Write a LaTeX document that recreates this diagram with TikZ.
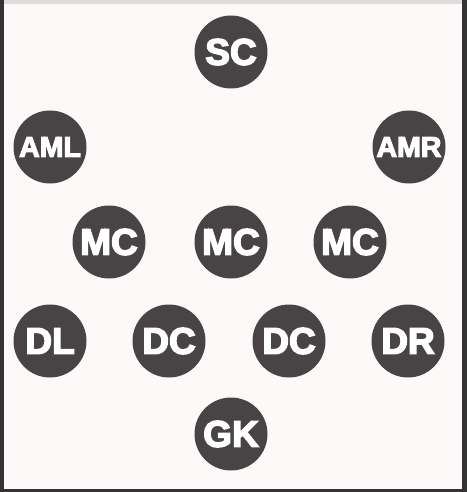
\documentclass[tikz,border=0pt]{standalone}
\usepackage{fontspec}
\newfontfamily\kitfont[FakeBold=4]{Liberation Sans Bold}
\usepackage{tikz}
\definecolor{pitchpaper}{RGB}{251,250,249}
\definecolor{shirtgray}{RGB}{72,68,70}
\definecolor{edgedark}{RGB}{52,50,52}
\definecolor{edgelight}{RGB}{222,220,218}

\begin{document}
\begin{tikzpicture}[x=1pt, y=-1pt,
plr/.style={circle, fill=shirtgray, minimum size=73pt, inner sep=0pt,
text=white, font=\kitfont\fontsize{37}{37}\selectfont},
plrw/.style={plr, font=\kitfont\fontsize{28.5}{28.5}\selectfont}
]
\useasboundingbox (0,0) rectangle (467,492);
\fill[pitchpaper] (0,0) rectangle (467,492);
\fill[edgelight] (0,0) rectangle (467,4);
\fill[edgedark] (0,0) rectangle (3.5,492);
\fill[edgedark] (462,0) rectangle (467,492);
\fill[edgedark] (0,489) rectangle (467,492);

\node[plr]  (sc)  at (231,52)  {SC};

\node[plrw] (aml) at (50,147)  {AML};
\node[plrw] (amr) at (409,147) {AMR};

\node[plr]  (mcl) at (109,242) {MC};
\node[plr]  (mcc) at (231,242) {MC};
\node[plr]  (mcr) at (350,242) {MC};

\node[plr]  (dl)  at (50,341)  {DL};
\node[plr]  (dcl) at (169,341) {DC};
\node[plr]  (dcr) at (289,341) {DC};
\node[plr]  (dr)  at (408,341) {DR};

\node[plr]  (gk)  at (231,434) {GK};

\end{tikzpicture}
\end{document}
